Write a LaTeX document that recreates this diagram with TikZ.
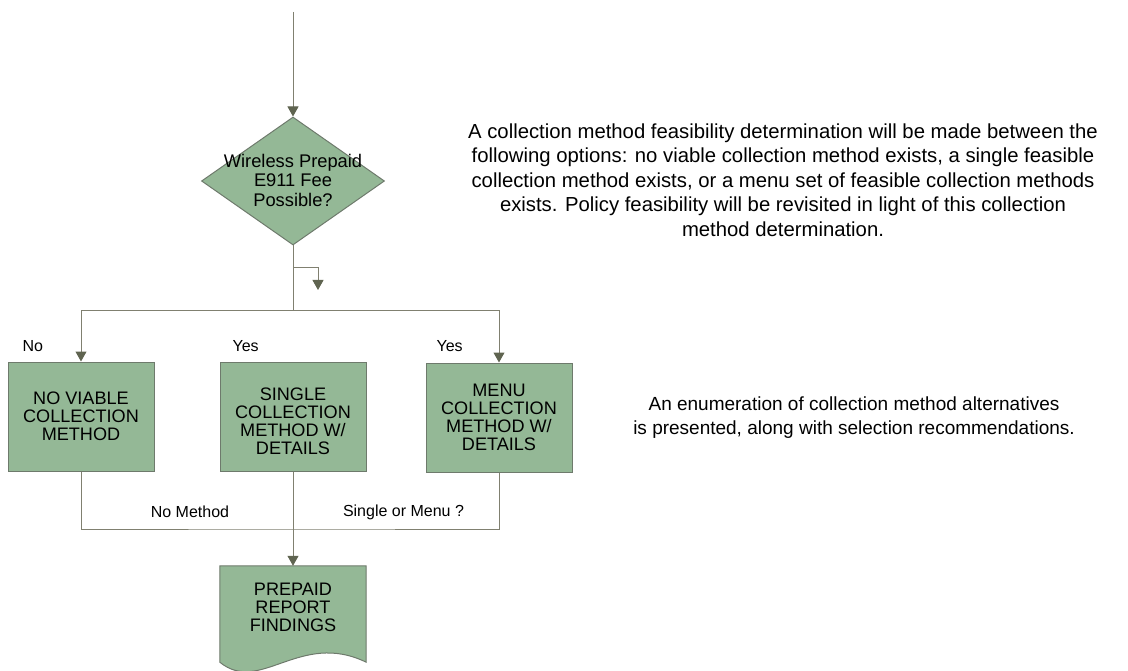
\documentclass[tikz,border=0pt]{standalone}
\usepackage{fontspec}
\setmainfont{Liberation Sans}
\usetikzlibrary{arrows.meta,shapes.geometric}
\definecolor{boxfill}{RGB}{148,184,150}
\definecolor{boxline}{RGB}{110,122,108}
\definecolor{wirecol}{RGB}{128,128,112}
\definecolor{tipcol}{RGB}{95,100,80}
\begin{document}
\begin{tikzpicture}[x=1pt,y=-1pt,
  wire/.style={draw=wirecol, line width=1pt},
  flow/.style={wire, -{Triangle[length=10pt,width=11pt,color=tipcol]}},
  procbox/.style={rectangle, draw=boxline, fill=boxfill, line width=1pt,
    minimum width=146pt, minimum height=109pt, inner sep=0pt},
  decision/.style={diamond, draw=boxline, fill=boxfill, line width=1pt,
    minimum width=183pt, minimum height=128pt, inner sep=0pt},
  boxtext/.style={align=center, font=\fontsize{18.1}{18}\selectfont},
  dectext/.style={align=center, font=\fontsize{18.3}{19.5}\selectfont},
  lbl/.style={font=\fontsize{16}{18}\selectfont},
  note/.style={align=center, font=\fontsize{20.3}{24.5}\selectfont},
  notesmall/.style={align=center, font=\fontsize{19}{24}\selectfont}
]
\useasboundingbox (0,0) rectangle (1128,671);

% decision
\coordinate (top) at (293,12);
\node[decision] (dia) at (293,181) {};
\node[dectext] (diatext) at (293,180) {Wireless Prepaid\\E911 Fee\\Possible?};

% three outcome boxes
\node[procbox] (none) at (81,416.5) {};
\node[boxtext] at (none.center) {NO VIABLE\\COLLECTION\\METHOD};
\node[procbox] (single) at (293,416.5) {};
\node[boxtext] (singletext) at (293,421) {SINGLE\\COLLECTION\\METHOD W/\\DETAILS};
\node[procbox] (menu) at (499,417.5) {};
\node[boxtext] (menutext) at (499,417) {MENU\\COLLECTION\\METHOD W/\\DETAILS};

% report (document shape)
\node[minimum width=146pt, minimum height=96pt, inner sep=0pt] (doc) at (293,614) {};
\fill[boxfill] (doc.north west) -- (doc.north east) -- (doc.south east)
  .. controls (300,630) and (260,695) .. (doc.south west) -- cycle;
\draw[boxline, line width=1pt] (doc.north west) -- (doc.north east) -- (doc.south east)
  .. controls (300,630) and (260,695) .. (doc.south west) -- cycle;
\node[boxtext] (doctext) at (293,607) {PREPAID\\REPORT\\FINDINGS};

% connectors
\coordinate (split) at (293,311);
\coordinate (hook) at (293,267.5);
\coordinate (hookend) at (318,290);
\coordinate (merge) at (293,529);
\draw[flow] (top) -- (dia.north);
\draw[wire] (dia.south) -- (split);
\draw[flow] (hook) -| (hookend);
\draw[flow] (split) -| (none.north);
\draw[flow] (split) -| (menu.north);
\draw[wire] (none.south) |- (merge) -| (menu.south);
\draw[flow] (single.south) -- (doc.north);

% branch labels
\node[lbl, anchor=west] (lno) at (19,346) {No};
\node[lbl, anchor=west] (lyes1) at (229,346) {Yes};
\node[lbl, anchor=west] (lyes2) at (433,346) {Yes};
\node[lbl] (lnomethod) at (190,512) {No Method};
\node[lbl] (lsingle) at (403.5,512) {Single or Menu ?};

% notes
\node[note] (note1) at (783,180) {A collection method feasibility determination will be made between the\\
following options: no viable collection method exists, a single feasible\\
collection method exists, or a menu set of feasible collection methods\\
exists. Policy feasibility will be revisited in light of this collection\\
method determination.};
\node[notesmall] (note2) at (854,418) {An enumeration of collection method alternatives\\
is presented, along with selection recommendations.};
\end{tikzpicture}
\end{document}
